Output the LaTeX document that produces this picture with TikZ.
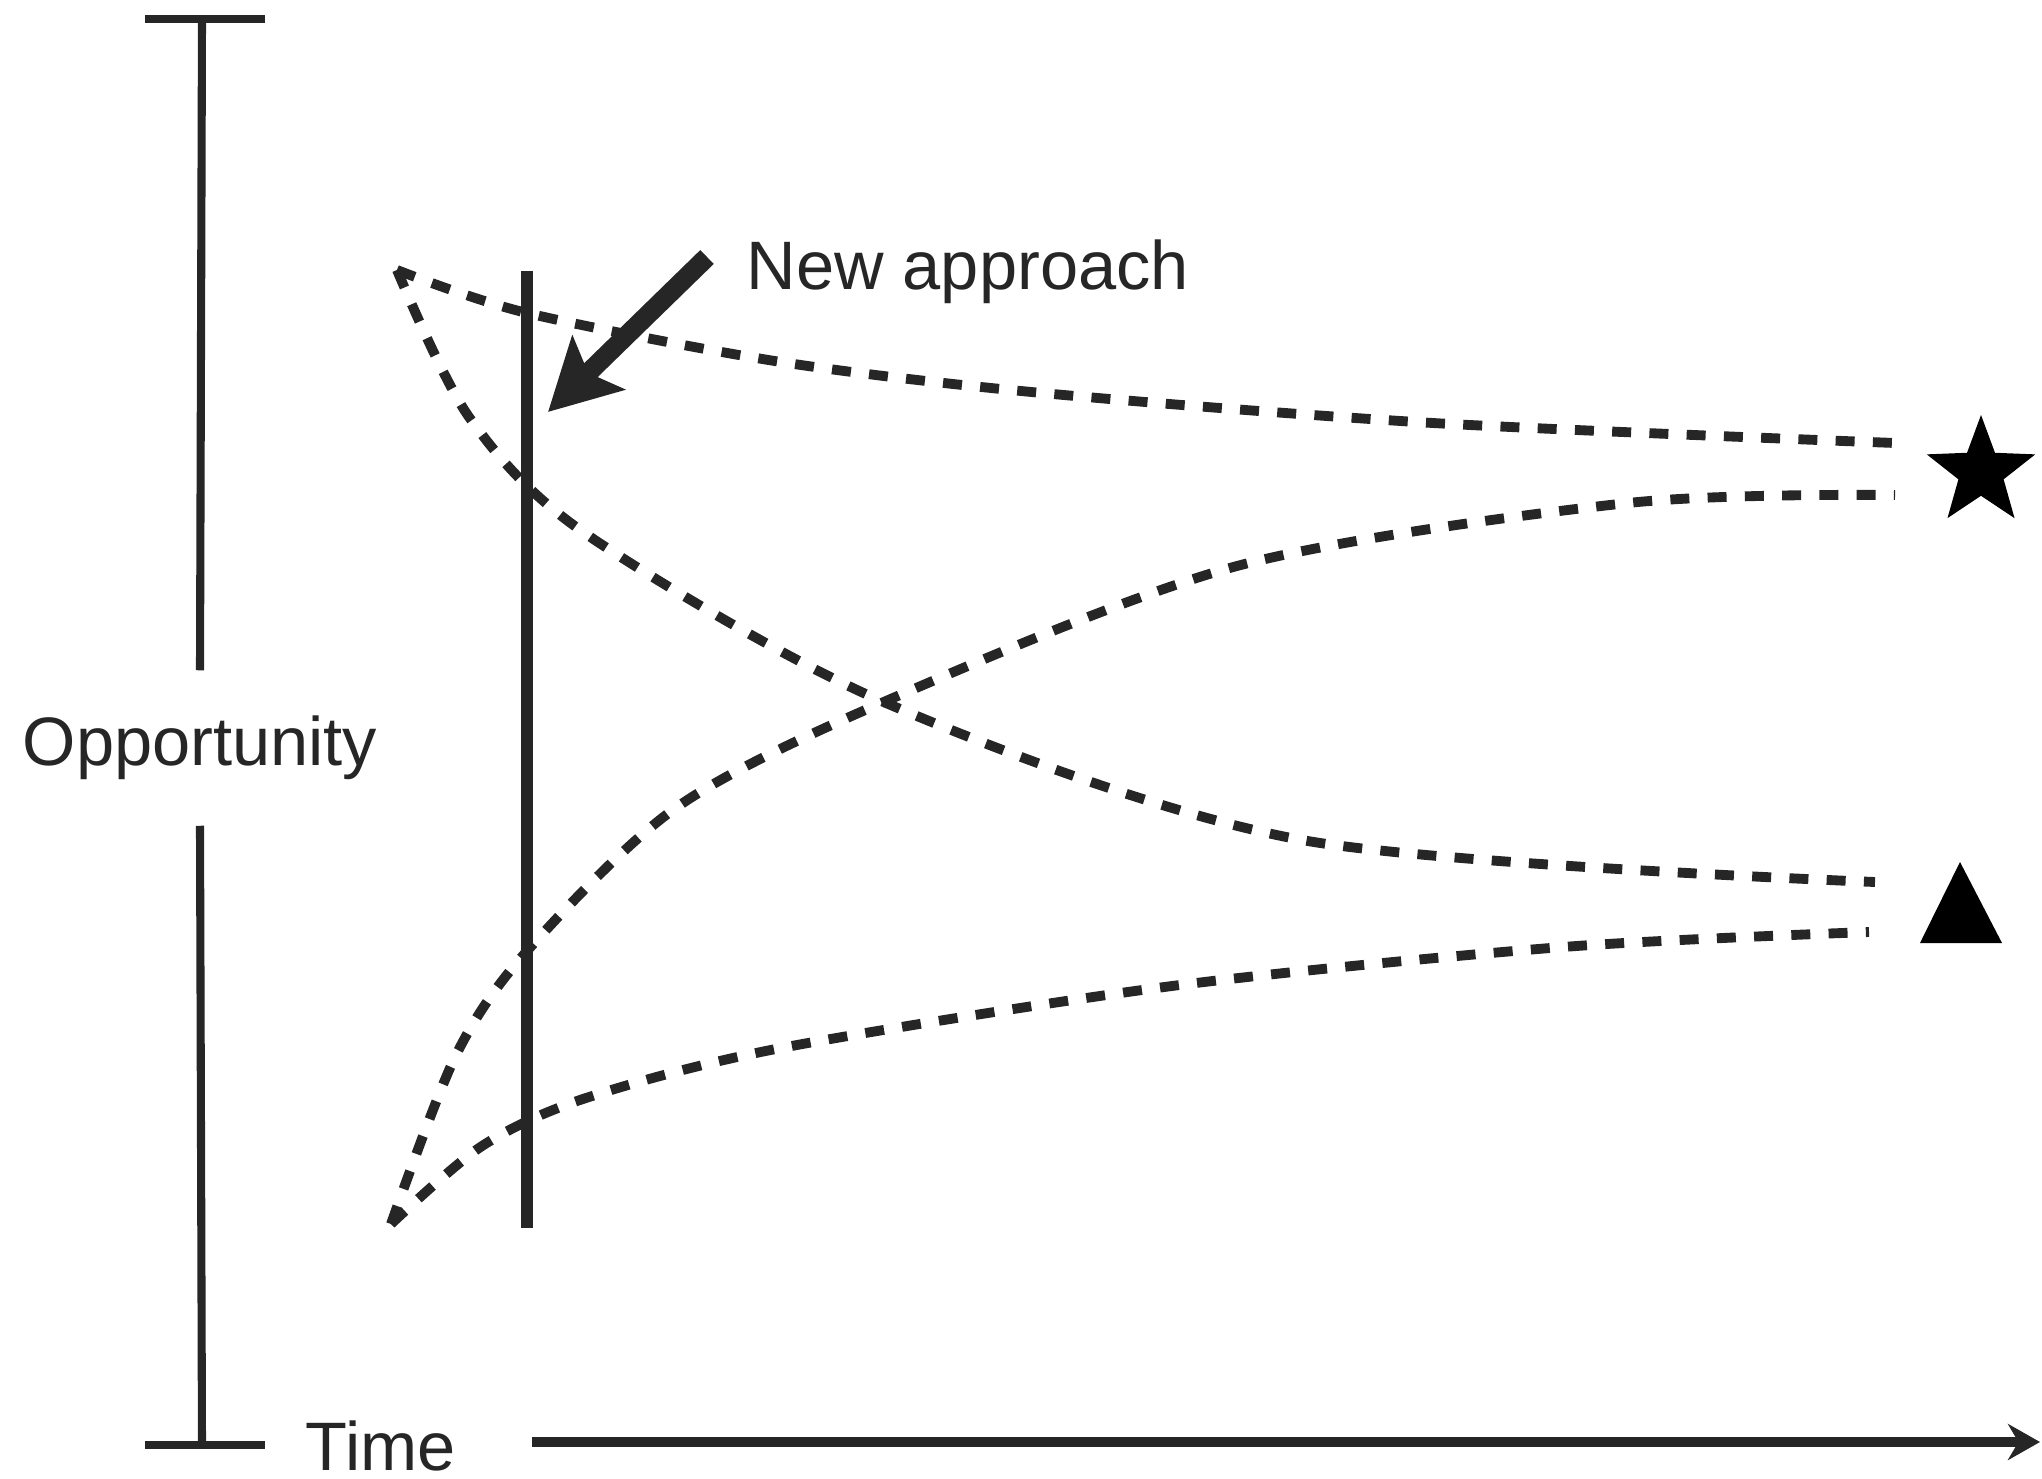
\documentclass[tikz,border=0pt]{standalone}
\usepackage{fontspec}
\setmainfont{Liberation Sans}
\usepackage{tikz}
\usetikzlibrary{shapes.geometric, arrows.meta}
\definecolor{ink}{HTML}{262626}
\tikzstyle{curve} = [ink, line width=2.8pt, dash pattern=on 5.4pt off 5.2pt]
\tikzstyle{bar} = [ink, line width=2.3pt]
\tikzstyle{lbl} = [ink, inner sep=0pt, font=\fontsize{19.5}{23}\selectfont]

\begin{document}
\begin{tikzpicture}[x=0.01cm,y=-0.01cm]
	\useasboundingbox (0,0) rectangle (2042,1479);
	\begin{scope}

		% Opportunity bar:
		% a vertical bar with a tick at each end, broken by its label
		\coordinate (bartop) at (202,19);
		\coordinate (barbot) at (202,1445);
		\node [lbl, minimum height=1.54cm] (opp) at (200,748) {Opportunity};
		\draw [bar] (bartop) -- (opp.north);
		\draw [bar] (opp.south) -- (barbot);
		\draw [bar] (145,19) -- (265,19);
		\draw [bar] (145,1445) -- (265,1445);

		% Time axis
		\node [lbl, anchor=base west] (time) at (305,1470) {Time};
		\coordinate (tstart) at (532,1442);
		\coordinate (tend) at (2040,1442);
		\draw [ink, line width=3.1pt, -{Stealth[length=3.2mm,width=3.6mm]}] (tstart) -- (tend);

		% The moment the new approach is taken
		\coordinate (mtop) at (527,271);
		\coordinate (mbot) at (527,1228);
		\draw [ink, line width=3.4pt] (mtop) -- (mbot);

		\node [lbl, anchor=base west] (newapp) at (746,289) {New approach};
		\coordinate (arrtail) at (707,257);
		\coordinate (arrtip) at (548,412);
		\draw [ink, line width=5.5pt, -{Stealth[length=7mm,width=7.4mm,inset=1.4mm]}] (arrtail) -- (arrtip);

		% Paths:
		% two start high, two start low, each pair ends at star or triangle
		\draw [curve] plot [smooth] coordinates {(397,270) (527,313) (781,362) (1042,393) (1433,423) (1895,443)};
		\draw [curve] plot [smooth] coordinates {(397,270) (469,417) (586,534) (886,703) (1302,840) (1875,882)};
		\draw [curve] plot [smooth] coordinates {(391,1224) (456,1055) (527,951) (677,807) (886,701) (1237,566) (1628,503) (1895,495)};
		\draw [curve] plot [smooth] coordinates {(391,1224) (482,1146) (586,1098) (781,1048) (1172,986) (1563,947) (1869,932)};

		% Outcomes
		\node [star, star points=5, star point ratio=2.4, fill=black, inner sep=0pt, minimum size=1.14cm] (best) at (1981,472) {};
		\coordinate (tri) at (1961,905);
		\fill [black] (tri) +(-1,-43) -- +(41,38) -- +(-41,38) -- cycle;

	\end{scope}
\end{tikzpicture}
\end{document}
